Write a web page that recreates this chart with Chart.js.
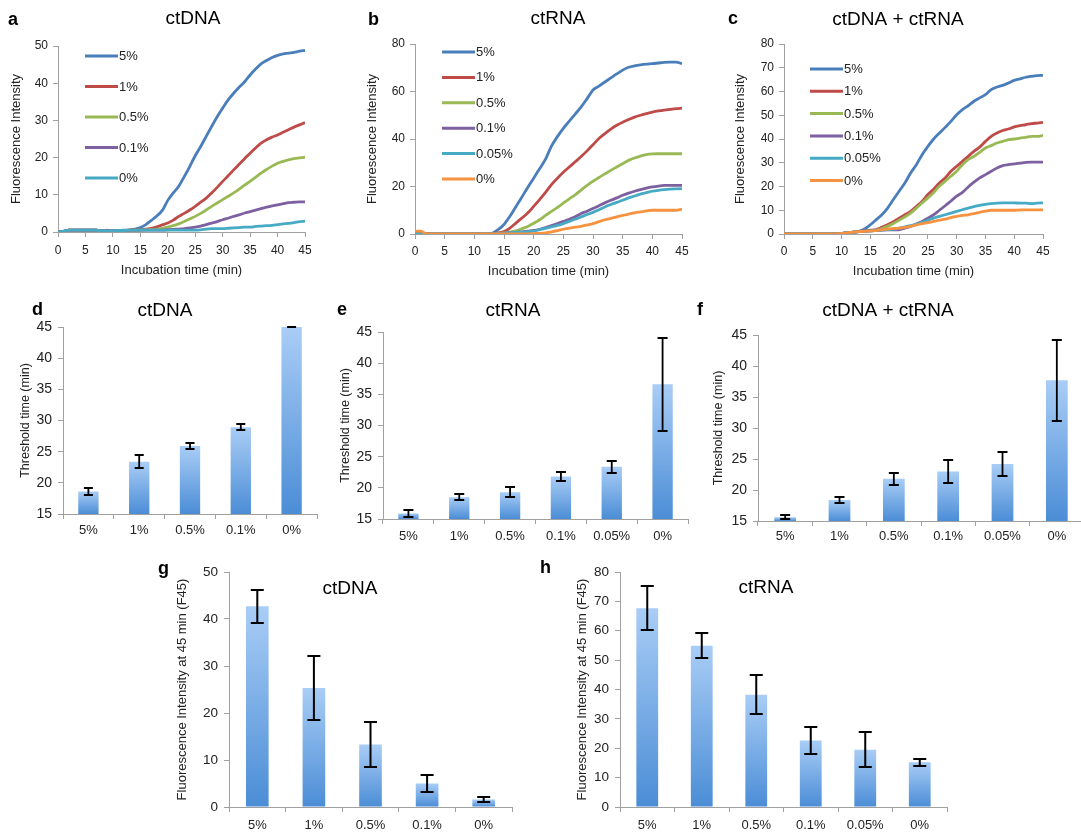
<!DOCTYPE html>
<html>
<head>
<meta charset="utf-8">
<title>ctDNA / ctRNA detection</title>
<script src="https://cdn.jsdelivr.net/npm/chart.js@4.4.1/dist/chart.umd.min.js"></script>
<style>
  html, body { margin: 0; padding: 0; background: #fff; overflow: hidden; }
  #fig { position: relative; width: 1081px; height: 832px; overflow: hidden; }
  #fig canvas { position: absolute; }
</style>
</head>
<body>
<div id="fig"></div>
<script>
// ---- data ----
const minutes = [0,1,2,3,4,5,6,7,8,9,10,11,12,13,14,15,16,17,18,19,20,21,22,23,24,25,26,27,28,29,30,31,32,33,34,35,36,37,38,39,40,41,42,43,44,45];

const dnaLabels = ['5%', '1%', '0.5%', '0.1%', '0%'];
const rnaLabels = ['5%', '1%', '0.5%', '0.1%', '0.05%', '0%'];

// a: ctDNA curves
const dna5  = [0,0.2,0.5,0.5,0.5,0.5,0.5,0.5,0.3,0.5, 0.3,0.4,0.5,0.5,0.8,1.2,2.0,3.1,4.3,5.8, 8.5,10.5,12.3,14.9,17.6,20.5,23.0,25.7,28.4,31.0, 33.3,35.5,37.3,38.9,40.4,42.2,43.8,45.2,46.1,46.9, 47.5,47.9,48.1,48.3,48.6,48.8];
const dna1  = [0,0.2,0.5,0.5,0.5,0.5,0.5,0.5,0.3,0.3, 0.3,0.4,0.4,0.5,0.5,0.6,0.8,1.0,1.4,1.9, 2.4,3.2,4.2,5.0,5.9,6.9,8.0,9.1,10.5,12.0, 13.6,15.1,16.7,18.2,19.7,21.2,22.6,23.9,24.8,25.5, 26.1,26.8,27.5,28.2,28.8,29.4];
const dna05 = [0,0.2,0.5,0.5,0.5,0.5,0.5,0.5,0.3,0.3, 0.3,0.4,0.4,0.5,0.5,0.5,0.6,0.7,0.8,1.0, 1.3,1.7,2.2,2.8,3.5,4.2,5.0,5.9,6.9,7.8, 8.7,9.6,10.5,11.5,12.6,13.6,14.7,15.8,16.8,17.7, 18.5,19.0,19.4,19.7,19.9,20.1];
const dna01 = [0,0.2,0.5,0.5,0.5,0.5,0.5,0.5,0.3,0.3, 0.3,0.4,0.4,0.5,0.5,0.5,0.5,0.5,0.5,0.5, 0.6,0.7,0.8,0.9,1.1,1.3,1.6,2.0,2.4,2.8, 3.3,3.7,4.2,4.6,5.1,5.5,5.9,6.3,6.7,7.0, 7.3,7.6,7.9,8.0,8.1,8.1];
const dna0  = [0,0.2,0.5,0.5,0.5,0.5,0.5,0.5,0.3,0.3, 0.3,0.4,0.4,0.5,0.5,0.5,0.5,0.5,0.5,0.5, 0.5,0.5,0.5,0.5,0.5,0.5,0.6,0.8,0.9,0.9, 0.9,1.0,1.1,1.2,1.3,1.3,1.5,1.6,1.7,1.8, 2.0,2.2,2.3,2.5,2.8,2.9];

// b: ctRNA curves
const rna5   = [0,0,0,0,0,0,0,0,0,0, 0,0,0,0.3,1.8,4.0,7.5,11.5,15.5,19.6, 23.5,27.5,31.5,37.0,41.0,44.5,47.5,50.5,53.5,57.0, 60.6,62.3,64.0,65.7,67.4,69.0,70.2,70.8,71.2,71.5, 71.7,72.0,72.3,72.4,72.4,71.7];
const rna1   = [0,0,0,0,0,0,0,0,0,0, 0,0,0,0.2,0.5,1.0,2.5,4.6,6.7,8.8, 11.6,14.5,17.5,20.8,23.5,26.0,28.2,30.4,32.6,35.0, 37.6,40.2,42.3,44.2,45.8,47.1,48.2,49.2,50.0,50.7, 51.3,51.8,52.2,52.5,52.8,53.0];
const rna05  = [0,0,0,0,0,0,0,0,0,0, 0,0,0,0,0.3,0.5,0.8,1.3,2.2,3.2, 4.5,6.0,7.8,9.5,11.2,13.0,14.8,16.5,18.5,20.5, 22.2,23.8,25.3,26.8,28.2,29.6,31.0,32.0,32.8,33.4, 33.7,33.8,33.8,33.8,33.8,33.8];
const rna01  = [0,0,0,0,0,0,0,0,0,0, 0,0,0,0,0,0.3,0.5,0.7,0.9,1.2, 1.5,2.0,2.7,3.5,4.4,5.3,6.2,7.3,8.6,9.6, 10.7,11.9,13.1,14.2,15.2,16.3,17.2,18.0,18.7,19.3, 19.8,20.2,20.5,20.5,20.5,20.5];
const rna005 = [0,0,0,0,0,0,0,0,0,0, 0,0,0,0,0,0.3,0.5,0.7,0.8,1.0, 1.2,1.8,2.4,3.0,3.6,4.4,5.3,6.2,7.2,8.2, 9.1,10.2,11.4,12.4,13.3,14.2,15.2,16.0,16.8,17.4, 18.0,18.4,18.7,18.9,19.0,19.1];
const rna0   = [1.2,1.2,0,0,0,0,0,0,0,0, 0,0,0,0,0,0,0,0,0,0, 0.2,0.3,0.5,0.9,1.4,2.0,2.5,2.9,3.2,3.8, 4.4,5.2,6.0,6.6,7.2,7.8,8.4,8.9,9.3,9.7, 10.0,10.0,10.0,10.0,10.0,10.5];

// c: ctDNA + ctRNA curves
const mix5   = [0,0,0,0,0,0,0,0,0,0, 0.3,0.5,0.7,1.1,2.1,3.9,6.0,8.1,10.9,14.5, 18.0,21.5,25.7,29.2,33.4,36.9,40.0,42.5,44.9,47.4, 50.2,52.4,54.0,55.9,57.3,58.7,60.8,61.9,62.6,63.6, 64.7,65.3,66.0,66.4,66.7,66.8];
const mix1   = [0,0,0,0,0,0,0,0,0,0, 0.3,0.5,0.8,1.1,1.4,1.6,1.8,2.8,3.9,5.2, 6.7,8.1,9.5,11.6,13.8,16.6,18.9,21.5,23.6,26.4, 28.5,30.6,32.7,34.8,36.6,39.0,41.1,42.5,43.6,44.2, 45.1,45.6,46.0,46.5,46.7,47.0];
const mix05  = [0,0,0,0,0,0,0,0,0,0, 0.3,0.5,0.8,1.0,1.2,1.3,1.5,2.3,3.2,4.4, 5.8,7.2,8.8,10.9,13.1,15.2,17.5,20.1,22.2,24.3, 26.4,29.2,31.3,32.7,34.4,36.2,37.2,38.3,39.0,39.7, 40.0,40.4,40.7,41.1,41.1,41.5];
const mix01  = [0,0,0,0,0,0,0,0,0,0, 0.3,0.5,0.8,1.0,1.2,1.3,1.5,1.6,1.7,1.8, 1.8,2.5,3.2,4.2,5.3,6.6,8.1,10.0,11.9,13.9, 15.9,17.5,19.8,21.8,23.6,25.0,26.4,27.8,28.8,29.2, 29.5,29.8,30.2,30.3,30.3,30.3];
const mix005 = [0,0,0,0,0,0,0,0,0,0, 0.3,0.5,0.8,1.0,1.2,1.3,1.5,1.6,1.8,2.1, 2.5,3.0,3.5,4.2,4.9,5.8,6.7,7.4,8.1,8.8, 9.5,10.2,10.9,11.5,12.1,12.5,12.8,13.0,13.1,13.1, 13.1,13.0,13.0,12.8,13.0,13.1];
const mix0   = [0,0,0,0,0,0,0,0,0,0, 0.3,0.5,0.8,1.0,1.1,1.3,1.4,1.8,2.1,2.3, 2.5,2.8,3.2,3.8,4.4,4.8,5.3,5.8,6.3,6.9, 7.4,7.8,8.1,8.6,9.1,9.6,10.0,10.0,10.0,10.0, 10.0,10.1,10.2,10.2,10.2,10.2];

// d-f: threshold time (min), mean and error
const thrDna    = [18.6, 23.4, 25.9, 28.9, 45];
const thrDnaErr = [0.5, 1.1, 0.55, 0.5, 0];
const thrRna    = [15.9, 18.5, 19.3, 21.8, 23.4, 36.6];
const thrRnaErr = [0.5, 0.5, 0.85, 0.7, 0.95, 7.5];
const thrMix    = [15.6, 18.4, 21.8, 23.0, 24.2, 37.7];
const thrMixErr = [0.35, 0.55, 1.0, 1.9, 2.0, 6.5];

// g-h: fluorescence at 45 min (F45)
const f45Dna    = [42.7, 25.3, 13.3, 5.0, 1.6];
const f45DnaErr = [3.55, 6.8, 4.8, 1.8, 0.55];
const f45Rna    = [67.7, 54.9, 38.2, 22.6, 19.5, 15.2];
const f45RnaErr = [7.5, 4.3, 6.6, 4.7, 6.0, 1.3];

const lineColors = ['#4a7ebb', '#be4b48', '#98b954', '#7d60a0', '#46aac5', '#f69240'];

// ---- helpers ----
Chart.defaults.font.family = '"Liberation Sans", Arial, Helvetica, sans-serif';
Chart.defaults.color = '#222';
Chart.defaults.animation = false;

const axisGray = '#a0a0a0';
const FONT = '"Liberation Sans", Arial, sans-serif';

function makeCanvas(box) {
    const c = document.createElement('canvas');
    c.width = box[2];
    c.height = box[3];
    c.style.left = box[0] + 'px';
    c.style.top = box[1] + 'px';
    c.style.width = box[2] + 'px';
    c.style.height = box[3] + 'px';
    document.getElementById('fig').appendChild(c);
    return c;
}

// panel letter and title, given in page coordinates
function panelText(box, letter, title) {
    return {
        id: 'panelText',
        afterDraw(chart) {
            const ctx = chart.ctx;
            ctx.save();
            ctx.fillStyle = '#000';
            ctx.font = 'bold 18px ' + FONT;
            ctx.textAlign = 'left';
            ctx.textBaseline = 'alphabetic';
            ctx.fillText(letter.text, letter.x - box[0], letter.y - box[1]);
            ctx.font = '19px ' + FONT;
            ctx.textAlign = 'center';
            ctx.textBaseline = 'middle';
            ctx.fillText(title.text, title.x - box[0], title.y - box[1]);
            ctx.restore();
        }
    };
}

// vertical legend with line samples inside the plot area
function lineLegend(dx, dy, step) {
    return {
        id: 'lineLegend',
        afterDatasetsDraw(chart) {
            const {ctx, chartArea} = chart;
            ctx.save();
            ctx.font = '13px ' + FONT;
            ctx.textBaseline = 'middle';
            ctx.textAlign = 'left';
            chart.data.datasets.forEach((ds, i) => {
                const x = chartArea.left + dx;
                const y = chartArea.top + dy + i * step;
                ctx.strokeStyle = ds.borderColor;
                ctx.lineWidth = 3;
                ctx.beginPath();
                ctx.moveTo(x, y);
                ctx.lineTo(x + 33, y);
                ctx.stroke();
                ctx.fillStyle = '#222';
                ctx.fillText(ds.label, x + 34, y + 0.5);
            });
            ctx.restore();
        }
    };
}

function errorBars(errs, cap, width) {
    return {
        id: 'errorBars',
        afterDatasetsDraw(chart) {
            const ctx = chart.ctx;
            const y = chart.scales.y;
            const vals = chart.data.datasets[0].data;
            ctx.save();
            ctx.strokeStyle = '#000';
            ctx.lineWidth = width;
            chart.getDatasetMeta(0).data.forEach((bar, i) => {
                const hi = Math.round(y.getPixelForValue(vals[i] + errs[i]));
                const lo = Math.round(y.getPixelForValue(vals[i] - errs[i]));
                ctx.beginPath();
                ctx.moveTo(bar.x, hi); ctx.lineTo(bar.x, lo);
                ctx.moveTo(bar.x - cap, hi); ctx.lineTo(bar.x + cap, hi);
                ctx.moveTo(bar.x - cap, lo); ctx.lineTo(bar.x + cap, lo);
                ctx.stroke();
            });
            ctx.restore();
        }
    };
}

function barFill(context) {
    const chart = context.chart;
    const area = chart.chartArea;
    if (!area || context.type !== 'data') return '#7fb0e8';
    const yScale = chart.scales.y;
    const top = yScale.getPixelForValue(context.raw);
    const g = chart.ctx.createLinearGradient(0, top, 0, area.bottom);
    g.addColorStop(0, '#a9cdf6');
    g.addColorStop(1, '#4b8dd6');
    return g;
}

function axisGrid() {
    return {drawOnChartArea: false, drawTicks: true, tickLength: 5, color: axisGray, lineWidth: 1};
}

function lineChart(p) {
    const canvas = makeCanvas(p.box);
    const n = p.series.length;
    return new Chart(canvas, {
        type: 'line',
        data: {
            labels: minutes,
            datasets: p.series.map((s, i) => ({
                label: p.labels[i],
                data: s,
                borderColor: lineColors[i],
                backgroundColor: lineColors[i],
                borderWidth: 2.8,
                pointRadius: 0,
                cubicInterpolationMode: 'monotone',
                order: n - i
            }))
        },
        options: {
            responsive: false,
            layout: {padding: p.pad},
            plugins: {legend: {display: false}, tooltip: {enabled: false}},
            scales: {
                x: {
                    type: 'linear', min: 0, max: 45,
                    afterFit: (s) => { s.height = p.xh; },
                    ticks: {stepSize: 5, padding: p.xpad, font: {size: 12}, maxRotation: 0},
                    grid: axisGrid(),
                    border: {color: axisGray},
                    title: {display: true, text: 'Incubation time (min)', font: {size: 13}, padding: 0}
                },
                y: {
                    min: 0, max: p.ymax,
                    afterFit: (s) => { s.width = p.yw; },
                    ticks: {stepSize: p.ystep, padding: 5, font: {size: 12}},
                    grid: axisGrid(),
                    border: {color: axisGray},
                    title: {display: true, text: 'Fluorescence Intensity', font: {size: 13}, padding: 0}
                }
            }
        },
        plugins: [lineLegend(p.legend[0], p.legend[1], p.legend[2]), panelText(p.box, p.letter, p.title)]
    });
}

function barChart(p) {
    const canvas = makeCanvas(p.box);
    return new Chart(canvas, {
        type: 'bar',
        data: {
            labels: p.labels,
            datasets: [{
                data: p.values,
                backgroundColor: barFill,
                borderWidth: 0,
                barPercentage: 0.4,
                categoryPercentage: 1
            }]
        },
        options: {
            responsive: false,
            layout: {padding: p.pad},
            plugins: {legend: {display: false}, tooltip: {enabled: false}},
            scales: {
                x: {
                    afterFit: (s) => { s.height = p.xh; },
                    ticks: {padding: p.xpad, font: {size: 13}, autoSkip: false, maxRotation: 0},
                    grid: axisGrid(),
                    border: {color: axisGray}
                },
                y: {
                    min: p.ymin, max: p.ymax,
                    afterFit: (s) => { s.width = p.yw; },
                    ticks: {stepSize: p.ystep, padding: 6, font: {size: p.yfont}},
                    grid: axisGrid(),
                    border: {color: axisGray},
                    title: {display: true, text: p.ytitle, font: {size: p.ytfont}, padding: 0}
                }
            }
        },
        plugins: [errorBars(p.errs, p.cap, p.ew), panelText(p.box, p.letter, p.title)]
    });
}

// ---- panels ----
lineChart({
    box: [0, 0, 340, 285], pad: {left: 9, top: 46, right: 35, bottom: 7}, yw: 49, xh: 46, xpad: 6,
    ymax: 50, ystep: 10, labels: dnaLabels, series: [dna5, dna1, dna05, dna01, dna0],
    legend: [27, 10, 30.5],
    letter: {text: 'a', x: 8, y: 25}, title: {text: 'ctDNA', x: 193, y: 18.5}
});
lineChart({
    box: [360, 0, 340, 285], pad: {left: 5, top: 44, right: 18, bottom: 6}, yw: 50, xh: 45, xpad: 5,
    ymax: 80, ystep: 20, labels: rnaLabels, series: [rna5, rna1, rna05, rna01, rna005, rna0],
    legend: [27, 8, 25.4],
    letter: {text: 'b', x: 368, y: 25}, title: {text: 'ctRNA', x: 558, y: 18.5}
});
lineChart({
    box: [720, 0, 361, 285], pad: {left: 13, top: 44, right: 38, bottom: 6}, yw: 51, xh: 45, xpad: 5,
    ymax: 80, ystep: 10, labels: rnaLabels, series: [mix5, mix1, mix05, mix01, mix005, mix0],
    legend: [26, 25, 22.3],
    letter: {text: 'c', x: 728, y: 24}, title: {text: 'ctDNA + ctRNA', x: 898, y: 20}
});

barChart({
    box: [0, 290, 340, 255], pad: {left: 18, top: 37, right: 23, bottom: 3}, yw: 45, xh: 28, xpad: 4,
    ymin: 15, ymax: 45, ystep: 5, yfont: 14, ytfont: 12.5, ytitle: 'Threshold time (min)',
    labels: dnaLabels, values: thrDna, errs: thrDnaErr, cap: 4.5, ew: 1.8,
    letter: {text: 'd', x: 32, y: 315}, title: {text: 'ctDNA', x: 165, y: 311}
});
barChart({
    box: [335, 290, 363, 260], pad: {left: 3, top: 42, right: 10, bottom: 3}, yw: 45, xh: 28, xpad: 5,
    ymin: 15, ymax: 45, ystep: 5, yfont: 14, ytfont: 12.5, ytitle: 'Threshold time (min)',
    labels: rnaLabels, values: thrRna, errs: thrRnaErr, cap: 5, ew: 1.8,
    letter: {text: 'e', x: 337, y: 315}, title: {text: 'ctRNA', x: 513, y: 311}
});
barChart({
    box: [695, 290, 400, 260], pad: {left: 16, top: 45, right: 11, bottom: 1}, yw: 47, xh: 28, xpad: 3,
    ymin: 15, ymax: 45, ystep: 5, yfont: 14, ytfont: 12.5, ytitle: 'Threshold time (min)',
    labels: rnaLabels, values: thrMix, errs: thrMixErr, cap: 5, ew: 1.8,
    letter: {text: 'f', x: 697, y: 315}, title: {text: 'ctDNA + ctRNA', x: 888, y: 311}
});
barChart({
    box: [150, 555, 380, 277], pad: {left: 25, top: 17, right: 18, bottom: 0}, yw: 54, xh: 25, xpad: 6,
    ymin: 0, ymax: 50, ystep: 10, yfont: 13.5, ytfont: 13, ytitle: 'Fluorescence Intensity at 45 min (F45)',
    labels: dnaLabels, values: f45Dna, errs: f45DnaErr, cap: 6.5, ew: 2,
    letter: {text: 'g', x: 158, y: 574}, title: {text: 'ctDNA', x: 350, y: 589}
});
barChart({
    box: [535, 555, 425, 277], pad: {left: 40, top: 17, right: 13, bottom: 0}, yw: 45, xh: 25, xpad: 6,
    ymin: 0, ymax: 80, ystep: 10, yfont: 13.5, ytfont: 13, ytitle: 'Fluorescence Intensity at 45 min (F45)',
    labels: rnaLabels, values: f45Rna, errs: f45RnaErr, cap: 6.5, ew: 2,
    letter: {text: 'h', x: 540, y: 573}, title: {text: 'ctRNA', x: 766, y: 588}
});
</script>
</body>
</html>
